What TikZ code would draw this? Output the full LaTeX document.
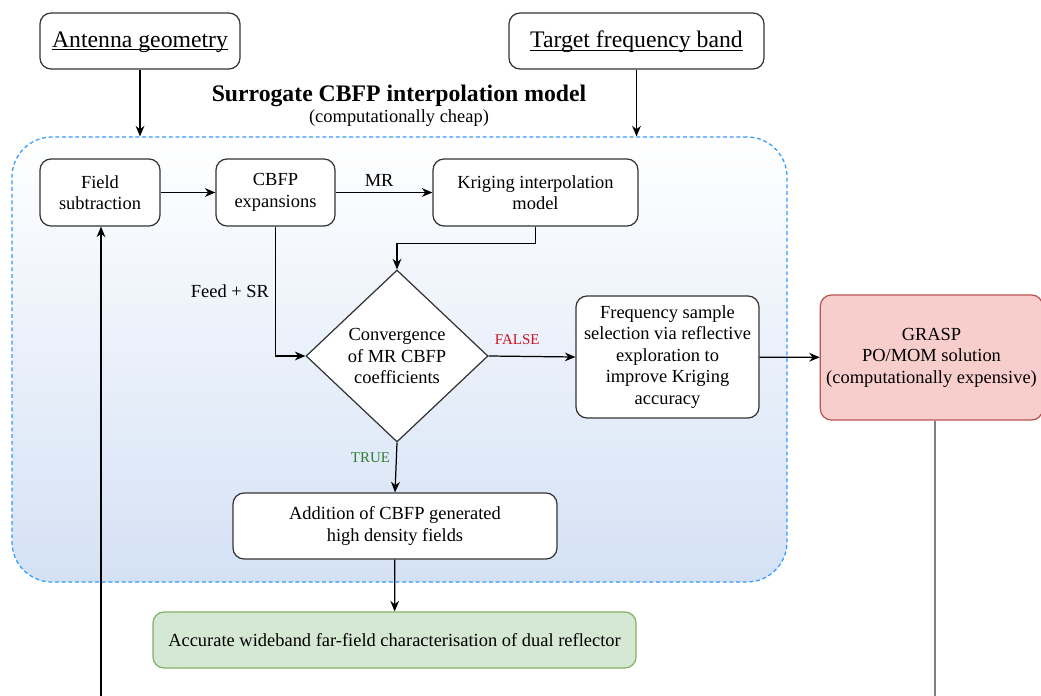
\documentclass[tikz,border=0pt]{standalone}
\usepackage{fontspec}
\setmainfont{Liberation Serif}
\usetikzlibrary{shapes.geometric,arrows.meta}

\definecolor{surrblue}{HTML}{3399FF}
\definecolor{surrbottom}{HTML}{D4E1F5}
\definecolor{graspfill}{HTML}{F8CECC}
\definecolor{graspline}{HTML}{B85450}
\definecolor{resfill}{HTML}{D5E8D4}
\definecolor{resline}{HTML}{82B366}
\definecolor{falsered}{HTML}{D0101E}
\definecolor{truegreen}{HTML}{2E7D32}

\newcommand{\inlabel}[1]{\underline{\raisebox{0pt}[\height][0pt]{#1}}}

\begin{document}
\begin{tikzpicture}[
mybox/.style={
    draw=black!80,
    fill=white,
    rectangle,
    rounded corners=0.22cm,
    line width=0.7pt,
    align=center,
    font=\fontsize{10.5}{12.2}\selectfont},
inbox/.style={
    mybox,
    font=\fontsize{13.5}{16}\selectfont},
decision/.style={
    draw=black!80,
    fill=white,
    diamond,
    inner sep=0pt,
    line width=0.7pt,
    align=center,
    font=\fontsize{10.5}{12.2}\selectfont},
flow/.style={-{Stealth[length=6pt,width=5pt]}, line width=0.7pt},
cond/.style={font=\fontsize{8.5}{10}\selectfont}
]

\useasboundingbox (0,0) rectangle (20.82,-13.92);
\fill[white] (0,0) rectangle (20.82,-13.92);

% surrogate model frame
\node (surr) at (7.99 cm, -7.19 cm) [rectangle, rounded corners=0.8cm,
    draw=surrblue, dash pattern=on 2.2pt off 1.6pt, line width=0.7pt,
    top color=white, bottom color=surrbottom,
    minimum width=15.5cm, minimum height=8.9cm] {};
\node (title) at (7.98 cm, -1.92 cm) [font=\fontsize{13.5}{16}\selectfont\bfseries] {Surrogate CBFP interpolation model};
\node (subtitle) at (7.98 cm, -2.36 cm) [font=\fontsize{10.5}{12}\selectfont] {(computationally cheap)};

% inputs
\node (antenna) at (2.8 cm, -0.82 cm) [inbox, minimum width=4cm, minimum height=1.12cm] {\inlabel{Antenna geometry}};
\node (target) at (12.73 cm, -0.82 cm) [inbox, minimum width=5.1cm, minimum height=1.12cm] {\inlabel{Target frequency band}};

\node (field) at (2.0 cm, -3.85 cm) [mybox, minimum width=2.4cm, minimum height=1.34cm] {Field\\subtraction};
\node (cbfp) at (5.51 cm, -3.85 cm) [mybox, minimum width=2.38cm, minimum height=1.34cm] {CBFP\\expansions};
\node (kriging) at (10.71 cm, -3.85 cm) [mybox, minimum width=4.1cm, minimum height=1.34cm] {Kriging interpolation\\model};

\node (conv) at (7.94 cm, -7.12 cm) [decision, minimum width=3.64cm, minimum height=3.44cm] {Convergence\\of MR CBFP\\coefficients};

\node (freq) at (13.35 cm, -7.14 cm) [mybox, minimum width=3.66cm, minimum height=2.44cm] {Frequency sample\\selection via reflective\\exploration to\\improve Kriging\\accuracy};
\node (grasp) at (18.63 cm, -7.15 cm) [mybox, draw=graspline, fill=graspfill, minimum width=4.34cm, minimum height=2.5cm] {GRASP\\PO/MOM solution\\(computationally expensive)};

\node (addition) at (7.9 cm, -10.52 cm) [mybox, minimum width=6.48cm, minimum height=1.32cm] {Addition of CBFP generated\\high density fields};
\node (result) at (7.89 cm, -12.8 cm) [mybox, draw=resline, fill=resfill, minimum width=9.66cm, minimum height=1.12cm] {Accurate wideband far-field characterisation of dual reflector};

\coordinate (loopin) at (2.02 cm, -13.92 cm);

% connectors
\draw[flow] (antenna) -- (antenna |- surr.north);
\draw[flow] (target) -- (target |- surr.north);
\draw[flow] (field) -- (cbfp);
\draw[flow] (cbfp) -- node[pos=0.45, above, font=\fontsize{10.5}{12}\selectfont] {MR} (kriging);
\draw[flow] (kriging.south) -- ++(0,-0.34) -| (conv.north);
\draw[flow] (cbfp.south) |- node[pos=0.25, left, font=\fontsize{10.5}{12}\selectfont] {Feed + SR} (conv.west);
\draw[flow] (conv.east) -- node[pos=0.33, above=3pt, cond, text=falsered] {FALSE} (freq.west);
\draw[flow] (freq) -- (grasp);
\draw[flow] (conv.south) -- node[pos=0.3, left, cond, text=truegreen] {TRUE} (addition.north);
\draw[flow] (addition) -- (result);
\draw[flow] (loopin) -- (loopin |- field.south);
\draw[gray, line width=1.1pt] ([xshift=0.07cm]grasp.south) -- ([xshift=0.07cm]grasp.south |- loopin);

\end{tikzpicture}
\end{document}
